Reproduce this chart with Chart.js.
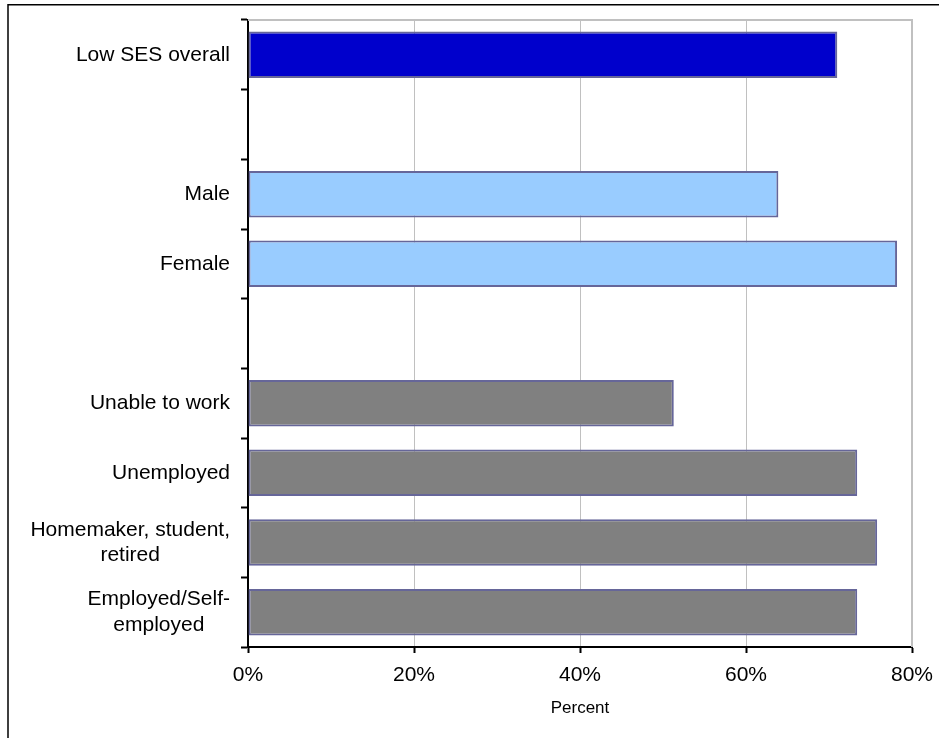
<!DOCTYPE html>
<html>
<head>
<meta charset="utf-8">
<script src="https://cdn.jsdelivr.net/npm/chart.js@4"></script>
<style>
  html, body { margin: 0; padding: 0; background: #fff; }
  canvas { display: block; }
</style>
</head>
<body>
<canvas id="ses-chart" width="939" height="738"></canvas>
<script>
// categories top to bottom, blanks are the gaps between groups
const categories = [
    ['Low SES overall'],
    [''],
    ['Male'],
    ['Female'],
    [''],
    ['Unable to work'],
    ['Unemployed'],
    ['Homemaker, student,', 'retired'],
    ['Employed/Self-', 'employed']
];
const percentValues = [71.0, null, 63.9, 78.2, null, 51.3, 73.4, 75.8, 73.4];
const xTickValues = [0, 20, 40, 60, 80];

const barColors = ['#0000CC', '#FFFFFF', '#99CCFF', '#99CCFF', '#FFFFFF', '#808080', '#808080', '#808080', '#808080'];
const fontFamily = '"Liberation Sans", Arial, sans-serif';

document.addEventListener('DOMContentLoaded', () => {
    const ctx = document.getElementById('ses-chart').getContext('2d');

    // page frame + gray top/right edge of the plot area
    const framePlugin = {
        id: 'frame',
        beforeDraw(chart) {
            const c = chart.ctx;
            c.save();
            c.fillStyle = '#fff';
            c.fillRect(0, 0, chart.width, chart.height);
            c.strokeStyle = '#000';
            c.lineWidth = 1.5;
            c.beginPath();
            c.moveTo(8, chart.height + 5);
            c.lineTo(8, 4.75);
            c.lineTo(chart.width + 5, 4.75);
            c.stroke();
            c.restore();
        },
        beforeDatasetsDraw(chart) {
            const a = chart.chartArea;
            const c = chart.ctx;
            c.save();
            c.strokeStyle = '#c0c0c0';
            c.lineWidth = 2;
            c.beginPath();
            c.moveTo(a.left, a.top);
            c.lineTo(a.right, a.top);
            c.lineTo(a.right, a.bottom);
            c.stroke();
            c.restore();
        }
    };

    // Excel style category labels: block right aligned, lines centred
    const labelPlugin = {
        id: 'catLabels',
        afterDraw(chart) {
            const scale = chart.scales.y;
            const c = chart.ctx;
            const lineH = 25.2;
            c.save();
            c.font = '21px ' + fontFamily;
            c.fillStyle = '#000';
            c.textAlign = 'center';
            c.textBaseline = 'middle';
            categories.forEach((lines, i) => {
                const y = scale.getPixelForValue(i);
                const widest = Math.max(...lines.map(l => c.measureText(l).width));
                const cx = scale.right - 18 - widest / 2;
                const y0 = y - (lines.length - 1) * lineH / 2;
                lines.forEach((l, k) => c.fillText(l, cx, y0 + k * lineH));
            });
            c.restore();
        }
    };

    new Chart(ctx, {
        type: 'bar',
        data: {
            labels: categories,
            datasets: [{
                data: percentValues,
                backgroundColor: barColors,
                borderColor: '#666699',
                borderWidth: 2,
                borderSkipped: false,
                categoryPercentage: 1.0,
                barPercentage: 0.667
            }]
        },
        options: {
            indexAxis: 'y',
            responsive: false,
            animation: false,
            devicePixelRatio: 1,
            layout: { padding: { top: 20, right: 27, left: 0, bottom: 0 } },
            plugins: {
                legend: { display: false },
                tooltip: { enabled: false }
            },
            scales: {
                x: {
                    min: 0,
                    max: 80,
                    afterFit: (scale) => {
                        scale.height = 91;
                        scale.paddingLeft = 0;
                        scale.paddingRight = 0;
                    },
                    afterBuildTicks: (scale) => { scale.ticks = xTickValues.map(v => ({ value: v })); },
                    grid: {
                        color: '#c0c0c0',
                        lineWidth: 1,
                        tickColor: '#000',
                        tickLength: 6,
                        tickWidth: 2
                    },
                    border: { color: '#000', width: 2 },
                    ticks: {
                        color: '#000',
                        padding: 10,
                        font: { family: fontFamily, size: 21 },
                        callback: (v) => v + '%'
                    },
                    title: {
                        display: true,
                        text: 'Percent',
                        color: '#000',
                        font: { family: fontFamily, size: 17 },
                        padding: { top: 0, bottom: 19 }
                    }
                },
                y: {
                    afterFit: (scale) => {
                        scale.width = 248;
                        scale.paddingTop = 0;
                        scale.paddingBottom = 0;
                    },
                    grid: {
                        offset: true,
                        drawOnChartArea: false,
                        tickColor: '#000',
                        tickLength: 7,
                        tickWidth: 2
                    },
                    border: { color: '#000', width: 2 },
                    ticks: { display: false }
                }
            }
        },
        plugins: [framePlugin, labelPlugin]
    });
});
</script>
</body>
</html>
